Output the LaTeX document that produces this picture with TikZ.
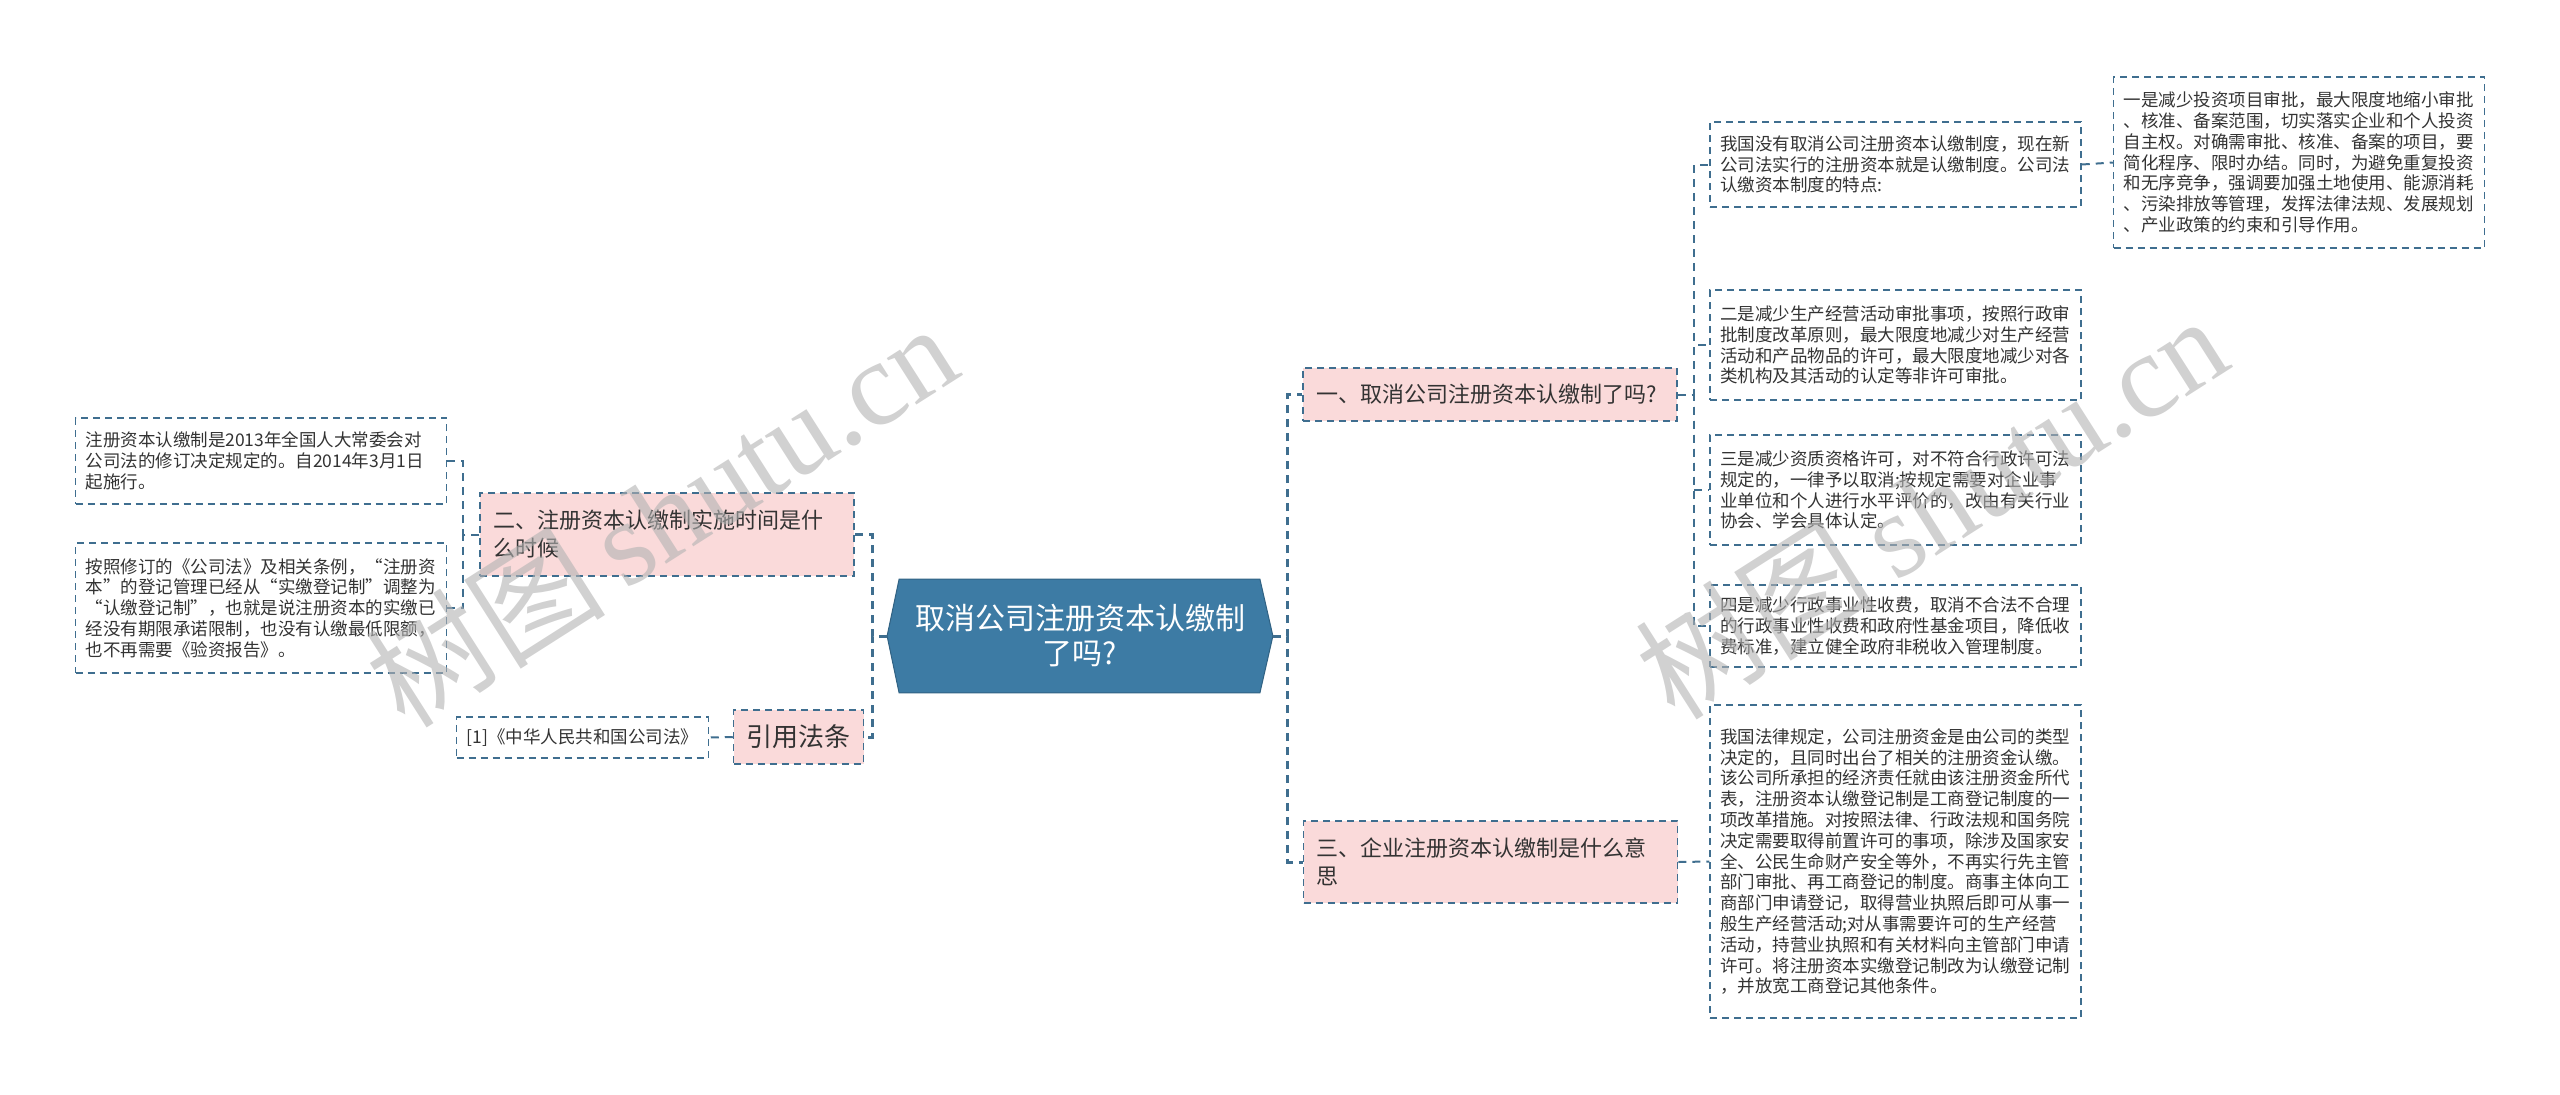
\documentclass[tikz,border=0pt]{standalone}
\usepackage{fontspec}
\setmainfont{Noto Sans CJK SC}
\newfontfamily\markserif{Liberation Serif}
\usetikzlibrary{backgrounds}

\definecolor{lineblue}{HTML}{3F6E8F}
\definecolor{rootblue}{HTML}{3D7BA4}
\definecolor{topicpink}{HTML}{FADADA}
\definecolor{textgray}{HTML}{333333}

\tikzset{
    leafbox/.style={draw=lineblue,line width=0.75pt,dash pattern=on 3.5pt off 2.5pt,
        text=textgray,align=left,text width=175.5pt,inner xsep=5pt,inner ysep=4pt,
        font=\fontsize{8.75}{10.4}\selectfont},
    topicbox/.style={draw=lineblue,fill=topicpink,line width=0.75pt,dash pattern=on 3.5pt off 2.5pt,
        text=textgray,align=left,text width=174pt,inner xsep=6.5pt,
        font=\fontsize{11}{14}\selectfont},
    rootbox/.style={text=white,align=center,minimum width=192.5pt,minimum height=56.5pt,
        font=\fontsize{15}{17.5}\selectfont},
    link/.style={draw=lineblue,line width=1pt,dash pattern=on 4pt off 3pt},
    rootlink/.style={draw=lineblue,line width=1.5pt,dash pattern=on 4pt off 3pt},
    watermark/.style={text=black!30,opacity=0.6,font=\fontsize{60}{64}\selectfont}
}

\begin{document}
\begin{tikzpicture}[x=0.5pt,y=-0.5pt]
    \useasboundingbox (0,0) rectangle (2560,1094);

    % centre
    \node [rootbox] (root) at (1080,636) {取消公司注册资本认缴制\\了吗?};
    \begin{scope}[on background layer]
        \filldraw [fill=rootblue,draw=rootblue!80!black,line width=0.5pt]
            (root.west) -- ([xshift=6pt]root.north west) -- ([xshift=-6.5pt]root.north east)
            -- (root.east) -- ([xshift=-6.5pt]root.south east) -- ([xshift=6pt]root.south west) -- cycle;
    \end{scope}

    % right side
    \node [topicbox,minimum height=26.5pt] (qone) at (1490,394.5) {一、取消公司注册资本认缴制了吗?};
    \node [topicbox,minimum height=41pt] (qthree) at (1490.5,862) {三、企业注册资本认缴制是什么意\\思};

    \node [leafbox,minimum height=42.5pt] (pointzero) at (1895.5,164.5) {我国没有取消公司注册资本认缴制度，现在新\\公司法实行的注册资本就是认缴制度。公司法\\认缴资本制度的特点:};
    \node [leafbox,minimum height=85.5pt] (pointone) at (2299,162.5) {一是减少投资项目审批，最大限度地缩小审批\\、核准、备案范围，切实落实企业和个人投资\\自主权。对确需审批、核准、备案的项目，要\\简化程序、限时办结。同时，为避免重复投资\\和无序竞争，强调要加强土地使用、能源消耗\\、污染排放等管理，发挥法律法规、发展规划\\、产业政策的约束和引导作用。};
    \node [leafbox,minimum height=55pt] (pointtwo) at (1895.5,345) {二是减少生产经营活动审批事项，按照行政审\\批制度改革原则，最大限度地减少对生产经营\\活动和产品物品的许可，最大限度地减少对各\\类机构及其活动的认定等非许可审批。};
    \node [leafbox,minimum height=55pt] (pointthree) at (1895.5,490) {三是减少资质资格许可，对不符合行政许可法\\规定的，一律予以取消;按规定需要对企业事\\业单位和个人进行水平评价的，改由有关行业\\协会、学会具体认定。};
    \node [leafbox,minimum height=41pt] (pointfour) at (1895.5,626) {四是减少行政事业性收费，取消不合法不合理\\的行政事业性收费和政府性基金项目，降低收\\费标准，建立健全政府非税收入管理制度。};
    \node [leafbox,minimum height=156.5pt] (meaning) at (1895.5,861.5) {我国法律规定，公司注册资金是由公司的类型\\决定的，且同时出台了相关的注册资金认缴。\\该公司所承担的经济责任就由该注册资金所代\\表，注册资本认缴登记制是工商登记制度的一\\项改革措施。对按照法律、行政法规和国务院\\决定需要取得前置许可的事项，除涉及国家安\\全、公民生命财产安全等外，不再实行先主管\\部门审批、再工商登记的制度。商事主体向工\\商部门申请登记，取得营业执照后即可从事一\\般生产经营活动;对从事需要许可的生产经营\\活动，持营业执照和有关材料向主管部门申请\\许可。将注册资本实缴登记制改为认缴登记制\\，并放宽工商登记其他条件。};

    % left side
    \node [topicbox,minimum height=41.5pt] (qtwo) at (667,534.5) {二、注册资本认缴制实施时间是什\\么时候};
    \node [topicbox,text width=,align=center,minimum width=56.5pt,minimum height=27pt,
        font=\fontsize{13}{15}\selectfont] (cite) at (798.5,737) {引用法条};

    \node [leafbox,minimum height=43pt] (timeone) at (261,461) {注册资本认缴制是2013年全国人大常委会对\\公司法的修订决定规定的。自2014年3月1日\\起施行。};
    \node [leafbox,minimum height=65pt] (timetwo) at (261,608) {按照修订的《公司法》及相关条例，“注册资\\本”的登记管理已经从“实缴登记制”调整为\\“认缴登记制”，也就是说注册资本的实缴已\\经没有期限承诺限制，也没有认缴最低限额，\\也不再需要《验资报告》。};
    \node [leafbox,text width=,minimum width=125.5pt,minimum height=20.5pt] (law) at (582.5,737.5) {[1]《中华人民共和国公司法》};

    % connectors
    \draw [rootlink] (root.east) -- ++(15,0) |- (qone.west);
    \draw [rootlink] (root.east) -- ++(15,0) |- (qthree.west);
    \draw [rootlink] (root.west) -- ++(-15,0) |- (qtwo.east);
    \draw [rootlink] (root.west) -- ++(-15,0) |- (cite.east);

    \foreach \leaf in {pointzero,pointtwo,pointthree,pointfour}
        \draw [link] (qone.east) -- ++(16,0) |- (\leaf.west);
    \draw [link] (qthree.east) -- (meaning.west);
    \draw [link] (pointzero.east) -- (pointone.west);

    \draw [link] (qtwo.west) -- ++(-16,0) |- (timeone.east);
    \draw [link] (qtwo.west) -- ++(-16,0) |- (timetwo.east);
    \draw [link] (cite.west) -- (law.east);

    % watermarks
    \node [watermark,rotate=32.5] (markleft) at (661,514) {树图\,{\markserif shutu.cn}};
    \node [watermark,rotate=32.5] (markright) at (1931,506) {树图\,{\markserif shutu.cn}};
\end{tikzpicture}
\end{document}
